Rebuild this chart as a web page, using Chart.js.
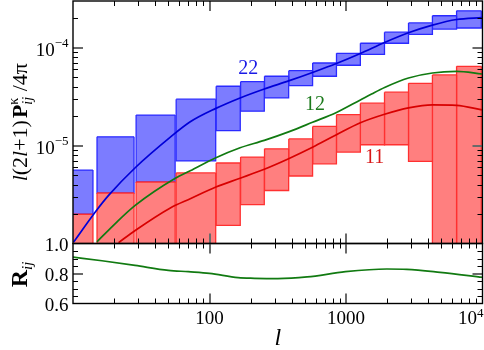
<!DOCTYPE html>
<html>
<head>
<meta charset="utf-8">
<script src="https://cdn.jsdelivr.net/npm/chart.js@4.4.1/dist/chart.umd.min.js"></script>
<style>
  html, body { margin: 0; padding: 0; background: #fff; }
  #wrap { position: relative; width: 484px; height: 350px; }
  #wrap canvas { position: absolute; left: 0; top: 0; }
</style>
</head>
<body>
<div id="wrap">
  <canvas id="topChart" width="484" height="350"></canvas>
  <canvas id="botChart" width="484" height="350"></canvas>
</div>
<script>
// multipole bins (edges)
var binLo = [8, 15, 29, 57, 112, 169, 253, 381, 570, 852, 1275, 1915, 2871, 4297, 6458];
var binHi = [14, 28, 56, 111, 168, 252, 380, 569, 851, 1274, 1914, 2870, 4296, 6457, 9800];

// 22 band powers (blue boxes)
var p22Hi = [5.62e-6, 1.23e-5, 2.05e-5, 2.98e-5, 4.04e-5, 4.50e-5, 5.11e-5, 5.83e-5, 6.98e-5, 8.77e-5, 1.11e-4, 1.44e-4, 1.79e-4, 2.12e-4, 2.38e-4];
var p22Lo = [1.99e-6, 3.28e-6, 4.25e-6, 6.97e-6, 1.42e-5, 2.25e-5, 3.07e-5, 4.10e-5, 5.11e-5, 6.62e-5, 8.53e-5, 1.11e-4, 1.37e-4, 1.55e-4, 1.59e-4];

// 11 band powers (red boxes)
var p11Hi = [1.99e-6, 3.28e-6, 4.25e-6, 5.26e-6, 6.64e-6, 7.64e-6, 9.27e-6, 1.17e-5, 1.57e-5, 2.07e-5, 2.71e-5, 3.51e-5, 4.33e-5, 5.27e-5, 6.45e-5];
var p11Lo = [1e-7, 1e-7, 1e-7, 1e-7, 1.53e-6, 2.49e-6, 3.48e-6, 4.89e-6, 6.52e-6, 8.59e-6, 1.02e-5, 1.02e-5, 6.89e-6, 1e-7, 1e-7];

// theory curves
var ell22 = [10.1, 14.57, 18.22, 28.55, 51.66, 72.29, 111.4, 167.5, 252, 379.7, 568.4, 851, 1274, 1917, 2869, 4294, 6461, 9900];
var cl22  = [1.033e-6, 2.10e-6, 3.10e-6, 5.94e-6, 1.22e-5, 1.75e-5, 2.40e-5, 3.07e-5, 3.79e-5, 4.58e-5, 5.59e-5, 6.90e-5, 8.73e-5, 1.13e-4, 1.42e-4, 1.70e-4, 1.94e-4, 2.03e-4];
var ell12 = [14.97, 20.4, 28.55, 56.19, 72.29, 111.4, 167.5, 252, 379.7, 568.4, 851, 1274, 1540, 1917, 2869, 4294, 6461, 9900];
var cl12  = [1.04e-6, 1.60e-6, 2.45e-6, 4.64e-6, 5.53e-6, 7.51e-6, 9.50e-6, 1.13e-5, 1.38e-5, 1.73e-5, 2.18e-5, 2.93e-5, 3.37e-5, 3.93e-5, 4.91e-5, 5.52e-5, 5.72e-5, 5.39e-5];
var ell11 = [21.56, 28.55, 51.66, 72.29, 111.4, 167.5, 252, 379.7, 568.4, 851, 1274, 1917, 2869, 4294, 6461, 9900];
var cl11  = [1.02e-6, 1.36e-6, 2.31e-6, 2.87e-6, 3.78e-6, 4.64e-6, 5.73e-6, 7.34e-6, 9.61e-6, 1.29e-5, 1.71e-5, 2.09e-5, 2.43e-5, 2.61e-5, 2.58e-5, 2.32e-5];

// correlation coefficient R_ij
var ellR = [10, 16.3, 28.5, 50, 70, 100, 162, 214, 317, 519, 991, 1991, 2787, 4887, 10000];
var rij  = [0.909, 0.885, 0.854, 0.821, 0.812, 0.801, 0.772, 0.768, 0.766, 0.777, 0.812, 0.830, 0.828, 0.808, 0.775];

// curve labels (anchored in data coords)
var curveLabels = ['22', '12', '11'];
var curveLabelL = [192, 592, 1618];
var curveLabelV = [6.06e-5, 2.61e-5, 7.52e-6];
var curveLabelCol = ['#1a1ae6', '#1c7a1c', '#d81818'];

// ticks
var xMajor = [100, 1000];
var xTickLabels = ['100', '1000'];
var yMajor = [1e-5, 1e-4];
var yTickExp = ['\u22125', '\u22124'];
var rMajor = [0.6, 0.8, 1.0];
var rTickLabels = ['0.6', '0.8', '1.0'];
var rMinor = [0.65, 0.7, 0.75, 0.85, 0.9, 0.95];

var SERIF = '"Liberation Serif", "DejaVu Serif", serif';

function logMinor(lo, hi) {
  var out = [];
  for (var d = lo; d < hi * 1.0001; d *= 10) {
    for (var m = 2; m <= 9; m++) {
      var v = m * d;
      if (v < hi) out.push(v);
    }
  }
  return out;
}

function pts(xs, ys) {
  return xs.map(function (x, i) { return { x: x, y: ys[i] }; });
}

// box datasets: top edge + U-shaped lower part filled to the top edge
var topSets = [];
function addBoxes(lo, hi, fillCol, lineCol, order) {
  for (var i = 0; i < binLo.length; i++) {
    topSets.push({
      data: [{ x: binLo[i], y: hi[i] }, { x: binHi[i], y: hi[i] }],
      borderColor: lineCol, borderWidth: 1.3, fill: false, order: order
    });
    topSets.push({
      data: [{ x: binLo[i], y: hi[i] }, { x: binLo[i], y: lo[i] }, { x: binHi[i], y: lo[i] }, { x: binHi[i], y: hi[i] }],
      borderColor: lineCol, backgroundColor: fillCol, borderWidth: 1.3, fill: '-1', order: order
    });
  }
}
addBoxes(p22Lo, p22Hi, '#7c7cff', '#2a2aff', 2);
addBoxes(p11Lo, p11Hi, '#ff7f7f', '#ff3030', 1);

topSets.push({ data: pts(ell22, cl22), borderColor: '#0000d8', borderWidth: 1.7, fill: false, cubicInterpolationMode: 'monotone', order: 0 });
topSets.push({ data: pts(ell12, cl12), borderColor: '#117a11', borderWidth: 1.7, fill: false, cubicInterpolationMode: 'monotone', order: 0 });
topSets.push({ data: pts(ell11, cl11), borderColor: '#d80000', borderWidth: 1.7, fill: false, cubicInterpolationMode: 'monotone', order: 0 });

function drawFrame(chart, xMaj, xMin, yMaj, yMin) {
  var ctx = chart.ctx, a = chart.chartArea, sx = chart.scales.x, sy = chart.scales.y;
  ctx.save();
  ctx.lineWidth = 1;
  ctx.strokeStyle = '#000';
  ctx.beginPath();
  xMin.forEach(function (v) {
    var p = Math.round(sx.getPixelForValue(v)) + 0.5;
    ctx.moveTo(p, a.top); ctx.lineTo(p, a.top + 5);
    ctx.moveTo(p, a.bottom); ctx.lineTo(p, a.bottom - 5);
  });
  yMin.forEach(function (v) {
    var p = Math.round(sy.getPixelForValue(v)) + 0.5;
    ctx.moveTo(a.left, p); ctx.lineTo(a.left + 5, p);
    ctx.moveTo(a.right, p); ctx.lineTo(a.right - 5, p);
  });
  ctx.stroke();
  ctx.lineWidth = 2;
  ctx.strokeStyle = '#6a6a6a';
  ctx.beginPath();
  xMaj.forEach(function (v) {
    var p = Math.round(sx.getPixelForValue(v));
    ctx.moveTo(p, a.top); ctx.lineTo(p, a.top + 10);
    ctx.moveTo(p, a.bottom); ctx.lineTo(p, a.bottom - 10);
  });
  yMaj.forEach(function (v) {
    var p = Math.round(sy.getPixelForValue(v));
    if (p <= a.top + 1 || p >= a.bottom - 1) return;
    ctx.moveTo(a.left, p); ctx.lineTo(a.left + 10, p);
    ctx.moveTo(a.right, p); ctx.lineTo(a.right - 10, p);
  });
  ctx.stroke();
  ctx.lineWidth = 1.4;
  ctx.strokeStyle = '#000';
  ctx.strokeRect(a.left, a.top, a.right - a.left, a.bottom - a.top);
  ctx.restore();
}

// draw a run of text pieces starting at x (baseline y); returns end x
function drawPieces(ctx, pieces, x, y, measureOnly) {
  var cx = x;
  pieces.forEach(function (p) {
    if (p.stack) {
      var w = 0;
      p.stack.forEach(function (s) {
        ctx.font = s.font;
        if (!measureOnly) ctx.fillText(s.t, cx, y + s.dy);
        w = Math.max(w, ctx.measureText(s.t).width);
      });
      cx += w;
    } else {
      ctx.font = p.font;
      if (!measureOnly) ctx.fillText(p.t, cx, y + (p.dy || 0));
      cx += ctx.measureText(p.t).width + (p.gap || 0);
    }
  });
  return cx;
}

function drawRotated(ctx, pieces, cx, cy, baseOff) {
  ctx.save();
  ctx.translate(cx, cy);
  ctx.rotate(-Math.PI / 2);
  ctx.textAlign = 'left';
  ctx.textBaseline = 'alphabetic';
  var w = drawPieces(ctx, pieces, 0, 0, true);
  drawPieces(ctx, pieces, -w / 2, baseOff, false);
  ctx.restore();
}

var topFrame = {
  id: 'topFrame',
  afterDraw: function (chart) {
    var ctx = chart.ctx, a = chart.chartArea, sx = chart.scales.x, sy = chart.scales.y;
    drawFrame(chart, xMajor, logMinor(10, 10000), yMajor, logMinor(1e-6, 3e-4));
    ctx.save();
    ctx.fillStyle = '#000';
    ctx.textBaseline = 'alphabetic';
    // y tick labels 10^-5, 10^-4
    yMajor.forEach(function (v, i) {
      var p = sy.getPixelForValue(v);
      ctx.font = '13px ' + SERIF;
      var we = ctx.measureText(yTickExp[i]).width;
      ctx.font = '19px ' + SERIF;
      var wb = ctx.measureText('10').width;
      var right = a.left - 4.5;
      ctx.textAlign = 'left';
      ctx.fillText('10', right - we - wb, p + 8);
      ctx.font = '13px ' + SERIF;
      ctx.fillText(yTickExp[i], right - we, p - 0.5);
    });
    // curve labels
    ctx.font = '20px ' + SERIF;
    ctx.textAlign = 'center';
    ctx.textBaseline = 'middle';
    curveLabels.forEach(function (t, i) {
      ctx.fillStyle = curveLabelCol[i];
      ctx.fillText(t, sx.getPixelForValue(curveLabelL[i]), sy.getPixelForValue(curveLabelV[i]));
    });
    ctx.fillStyle = '#000';
    // y title
    var big = '22px ' + SERIF, ital = 'italic 22px ' + SERIF;
    drawRotated(ctx, [
      { t: 'l', font: ital },
      { t: '(2', font: big },
      { t: 'l', font: ital },
      { t: '+1)', font: big, gap: 2 },
      { t: 'P', font: 'bold 22px ' + SERIF },
      { stack: [{ t: '\u03ba', font: '14px ' + SERIF, dy: -9 }, { t: 'ij', font: 'italic 14px ' + SERIF, dy: 5 }] },
      { t: ' /4\u03c0', font: big }
    ], 20, (a.top + a.bottom) / 2, 7);
    ctx.restore();
  }
};

var botFrame = {
  id: 'botFrame',
  afterDraw: function (chart) {
    var ctx = chart.ctx, a = chart.chartArea, sx = chart.scales.x, sy = chart.scales.y;
    drawFrame(chart, xMajor, logMinor(10, 10000), [0.8], rMinor);
    ctx.save();
    ctx.fillStyle = '#000';
    ctx.textBaseline = 'alphabetic';
    ctx.font = '19px ' + SERIF;
    ctx.textAlign = 'right';
    rMajor.forEach(function (v, i) {
      ctx.fillText(rTickLabels[i], a.left - 4.5, sy.getPixelForValue(v) + 7);
    });
    ctx.textAlign = 'center';
    xMajor.forEach(function (v, i) {
      ctx.fillText(xTickLabels[i], sx.getPixelForValue(v), a.bottom + 20.5);
    });
    // 10^4 at the right end
    ctx.textAlign = 'left';
    ctx.font = '13px ' + SERIF;
    var we = ctx.measureText('4').width;
    ctx.font = '19px ' + SERIF;
    var wb = ctx.measureText('10').width;
    var right = chart.width - 0.5;
    ctx.fillText('10', right - we - wb, a.bottom + 20.5);
    ctx.font = '13px ' + SERIF;
    ctx.fillText('4', right - we, a.bottom + 13.5);
    // x title
    ctx.font = 'italic 24px ' + SERIF;
    ctx.textAlign = 'center';
    ctx.fillText('l', (a.left + a.right) / 2, a.bottom + 41);
    // R_ij title
    drawRotated(ctx, [
      { t: 'R', font: 'bold 24px ' + SERIF },
      { t: 'ij', font: 'italic 15px ' + SERIF, dy: 5 }
    ], 19, (a.top + a.bottom) / 2 + 1, 8);
    ctx.restore();
  }
};

function baseOptions(pad, yScale) {
  return {
    responsive: false,
    animation: false,
    events: [],
    layout: { padding: pad },
    plugins: { legend: { display: false }, tooltip: { enabled: false } },
    elements: { point: { radius: 0 }, line: { tension: 0 } },
    scales: {
      x: { type: 'logarithmic', min: 10, max: 10000, display: false },
      y: yScale
    }
  };
}

new Chart(document.getElementById('topChart'), {
  type: 'line',
  data: { datasets: topSets },
  options: baseOptions({ left: 73, right: 1.5, top: 1, bottom: 106.5 },
    { type: 'logarithmic', min: 1e-6, max: 3e-4, display: false }),
  plugins: [topFrame]
});

new Chart(document.getElementById('botChart'), {
  type: 'line',
  data: {
    datasets: [{ data: pts(ellR, rij), borderColor: '#117a11', borderWidth: 1.7, fill: false, cubicInterpolationMode: 'monotone' }]
  },
  options: baseOptions({ left: 73, right: 1.5, top: 243.5, bottom: 46.5 },
    { type: 'linear', min: 0.6, max: 1.0, display: false }),
  plugins: [botFrame]
});
</script>
</body>
</html>
